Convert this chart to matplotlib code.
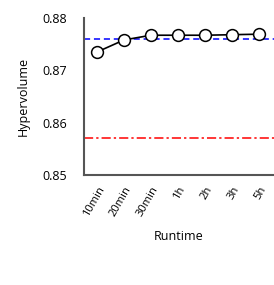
import matplotlib
matplotlib.use('Agg')
import matplotlib.pyplot as plt

# runtime budgets and the hypervolume reached
runtimes = ['10min', '20min', '30min', '1h', '2h', '3h', '5h']
hypervolume = [0.8735, 0.8758, 0.8767, 0.8767, 0.8767, 0.8768, 0.8769]
reference_blue = 0.8760
reference_red = 0.8571

plt.rcParams['font.family'] = ['Open Sans', 'DejaVu Sans']

fig = plt.figure(figsize=(2.74, 2.85), dpi=100)
ax = fig.add_axes([0.307, 0.386, 0.693, 0.551])

x = list(range(len(runtimes)))
ax.axhline(reference_blue, color='blue', linestyle=(0, (4, 2.5)), linewidth=1.1, zorder=1)
ax.axhline(reference_red, color='red', linestyle=(0, (6, 2, 1.5, 2)), linewidth=1.1, zorder=1)
ax.plot(x, hypervolume, color='black', linewidth=1.2, marker='o', markersize=8.5,
        markerfacecolor='white', markeredgecolor='black', markeredgewidth=1.1, zorder=3)

ax.set_xlim(-0.48, 6.56)
ax.set_ylim(0.85, 0.88)
ax.set_yticks([0.85, 0.86, 0.87, 0.88])
ax.set_xticks(x)
ax.set_xticklabels(runtimes, rotation=60, ha='right', rotation_mode='anchor', fontsize=8)
ax.tick_params(axis='y', labelsize=9, length=0, pad=12)
ax.tick_params(axis='x', length=0, pad=7)

for side in ['top', 'right']:
    ax.spines[side].set_visible(False)
for side in ['left', 'bottom']:
    ax.spines[side].set_color('#555555')
    ax.spines[side].set_linewidth(1.5)

ax.set_ylabel('Hypervolume', fontsize=9, labelpad=9)
ax.set_xlabel('Runtime', fontsize=9, labelpad=8)

fig.savefig('out.png', dpi=100)
